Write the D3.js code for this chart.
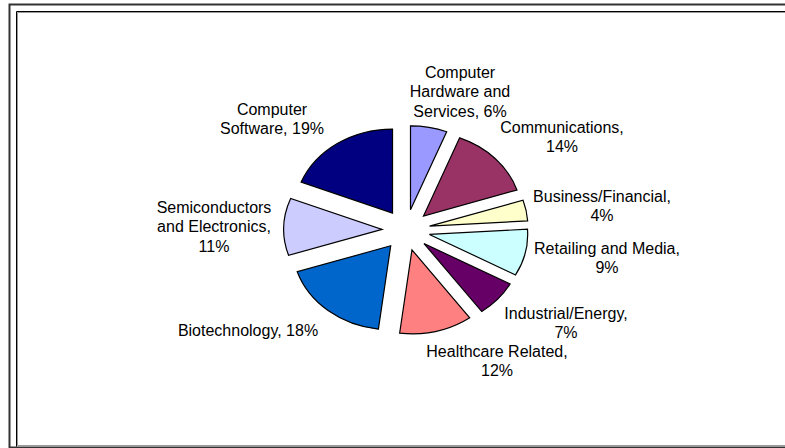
<!DOCTYPE html>
<html>
<head>
<meta charset="utf-8">
<script src="https://cdn.jsdelivr.net/npm/d3@7"></script>
<style>
  body { margin: 0; background: #fff; overflow: hidden; }
  svg { display: block; }
  text { font-family: "Liberation Sans", Arial, sans-serif; fill: #000; }
</style>
</head>
<body>
<script>
/**
  Exploded pie chart of investments per sector, drawn with d3.pie and d3.arc
*/

// sectors, clockwise starting at 12 o'clock
var sectors = ["Computer Hardware and Services", "Communications", "Business/Financial",
  "Retailing and Media", "Industrial/Energy", "Healthcare Related", "Biotechnology",
  "Semiconductors and Electronics", "Computer Software"];
var shares = [6, 14, 4, 9, 7, 12, 18, 11, 19];
var colours = ["#9999FF", "#993366", "#FFFFCC", "#CCFFFF", "#660066",
  "#FF8080", "#0066CC", "#CCCCFF", "#000080"];

// how many words go on each line of a label
var wordsPerLine = [[1, 2, 2], [1, 1], [1, 1], [3, 1], [1, 1], [2, 1], [2], [1, 2, 1], [1, 2]];

// where each label sits (center of first line)
var labelAt = [[460, 72], [562, 127], [602, 196], [607, 248], [566, 313],
  [497, 351], [248, 330], [214, 207], [272, 109]];

window.onload = function() {
  var width = 785, height = 448;

  var svg = d3.select("body").append("svg")
      .attr("width", width)
      .attr("height", height);

  // chart frame: only top, left and bottom show, the right side is cut off
  var line = d3.line();
  svg.append("path")
      .attr("d", line([[width + 5, 4.5], [9.5, 4.5], [9.5, 447.5], [width + 5, 447.5]]))
      .style("fill", "none").style("stroke", "#333").style("stroke-width", 2);
  svg.append("path")
      .attr("d", line([[width + 5, 12.5], [17.5, 12.5], [17.5, 445.5], [width + 5, 445.5]]))
      .style("fill", "none").style("stroke", "#999").style("stroke-width", 1);
  svg.append("path")
      .attr("d", line([[width + 5, 11.5], [16.5, 11.5], [16.5, 446.5]]))
      .style("fill", "none").style("stroke", "#000").style("stroke-width", 1);

  makePie(svg);
  makeLabels(svg);
};

/**
  draws the slices, each one pushed away from the center
*/
function makePie(svg) {
  var radius = 84, explode = 20.5, stretch = 1.17;

  var pie = d3.pie().sort(null).value(function(d) { return d; });
  var arc = d3.arc().innerRadius(0).outerRadius(radius);

  // the original pie is a little wider than it is tall
  var g = svg.append("g")
      .attr("transform", "translate(406,230) scale(" + stretch + ",1)");

  g.selectAll(".slice")
      .data(pie(shares))
    .enter().append("path")
      .attr("class", "slice")
      .attr("d", arc)
      .attr("transform", function(d) {
        var mid = (d.startAngle + d.endAngle) / 2;
        return "translate(" + explode * Math.sin(mid) + "," + (-explode * Math.cos(mid)) + ")";
      })
      .attr("vector-effect", "non-scaling-stroke")
      .style("fill", function(d, i) { return colours[i]; })
      .style("stroke", "#000")
      .style("stroke-width", 1.2);
}

/**
  writes "name, value%" next to each slice, split over a few lines
*/
function makeLabels(svg) {
  var lineHeight = 19.5;

  sectors.forEach(function(name, i) {
    var words = (name + ", " + shares[i] + "%").split(" ");
    var lines = [];
    var k = 0;
    wordsPerLine[i].forEach(function(n) {
      lines.push(words.slice(k, k + n).join(" "));
      k += n;
    });

    var text = svg.append("text")
        .attr("text-anchor", "middle")
        .style("font-size", "16px");

    lines.forEach(function(line, j) {
      text.append("tspan")
          .attr("x", labelAt[i][0])
          .attr("y", labelAt[i][1] + j * lineHeight + 5.5)
          .text(line);
    });
  });
}
</script>
</body>
</html>
